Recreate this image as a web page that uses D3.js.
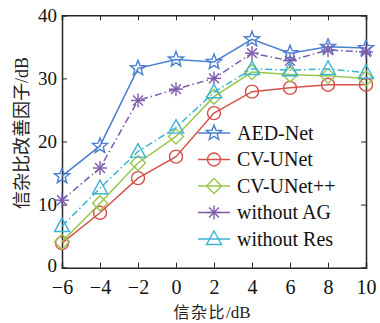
<!DOCTYPE html>
<html><head><meta charset="utf-8">
<script src="https://cdn.jsdelivr.net/npm/d3@7"></script>
<style>body{margin:0;background:#fff}svg{display:block}</style>
</head><body>
<script>
const snr = [-6,-4,-2,0,2,4,6,8,10];
const xTicks = [-6,-4,-2,0,2,4,6,8,10];
const yTicks = [0,10,20,30,40];
const seriesNames = ["AED-Net","CV-UNet","CV-UNet++","without AG","without Res"];
const aedNet   = [14.5,19.3,31.6,33.0,32.6,36.2,34.0,35.0,34.8];
const cvUNet   = [3.9,8.7,14.2,17.6,24.5,27.9,28.5,29.0,29.0];
const cvUNetPP = [4.1,10.2,16.6,20.8,27.1,31.0,30.6,30.4,30.0];
const withoutAG= [10.7,15.8,26.5,28.3,30.0,34.0,32.8,34.5,34.2];
const withoutRes=[6.6,12.6,18.4,22.2,27.8,31.5,31.3,31.5,30.9];
const colors = ["#4a7fd0","#d6504a","#98c54c","#7d5aad","#3db3d3"];
const symbols = ["star","circle","diamond","asterisk","triangle"];
const dashes = [null,null,null,"7,3,1.5,3","7,3,1.5,3"];
const allSeries = [aedNet,cvUNet,cvUNetPP,withoutAG,withoutRes];

const W=380,H=323, L=62, R=366, T=15.3, B=267.7;
const svg=d3.select("body").append("svg").attr("width",W).attr("height",H);
const x=d3.scaleLinear().domain([-6,10]).range([L,R]);
const y=d3.scaleLinear().domain([0,40]).range([B,T]);

const serif="'Liberation Serif','Times New Roman',serif";
const cjk="'Noto Sans CJK SC',sans-serif";
const axisColor="#262626";

function styleAxis(g, fs){
  g.selectAll("path").attr("stroke",axisColor).attr("stroke-width",1.5);
  g.selectAll("line").attr("stroke",axisColor).attr("stroke-width",1);
  g.selectAll("text").attr("font-family",serif).attr("font-size",fs).attr("fill","#111");
}
const fmt = d=> d<0 ? "\u2212"+Math.abs(d) : String(d);
svg.append("g").attr("transform",`translate(0,${B})`)
  .call(d3.axisBottom(x).tickValues(xTicks).tickSize(-5).tickPadding(12).tickFormat(fmt)).call(styleAxis,20);
const yAx=svg.append("g").attr("transform",`translate(${L},0)`)
  .call(d3.axisLeft(y).tickValues(yTicks).tickSize(-5).tickPadding(5)).call(styleAxis,19);
yAx.selectAll(".tick text").filter(d=>d===0).attr("dy","0.2em");
svg.append("g").attr("transform",`translate(0,${T})`)
  .call(d3.axisTop(x).tickValues(xTicks).tickSize(-5).tickFormat("")).call(styleAxis,20);
svg.append("g").attr("transform",`translate(${R},0)`)
  .call(d3.axisRight(y).tickValues(yTicks).tickSize(-5).tickFormat("")).call(styleAxis,20);

function marker(g, type, cx, cy, color){
  if(type==="circle"){
    g.append("circle").attr("cx",cx).attr("cy",cy).attr("r",6.5).attr("fill","none").attr("stroke",color).attr("stroke-width",1.4);
  } else if(type==="diamond"){
    g.append("path").attr("d",`M${cx},${cy-7.5}L${cx+7.5},${cy}L${cx},${cy+7.5}L${cx-7.5},${cy}Z`).attr("fill","none").attr("stroke",color).attr("stroke-width",1.4);
  } else if(type==="triangle"){
    g.append("path").attr("d",`M${cx},${cy-8}L${cx+7.5},${cy+5.5}L${cx-7.5},${cy+5.5}Z`).attr("fill","none").attr("stroke",color).attr("stroke-width",1.4);
  } else if(type==="star"){
    const pts=[];
    for(let i=0;i<10;i++){const r=i%2===0?8:3.4;const a=-Math.PI/2+i*Math.PI/5;pts.push([cx+r*Math.cos(a),cy+r*Math.sin(a)]);}
    g.append("path").attr("d","M"+pts.map(p=>p.join(",")).join("L")+"Z").attr("fill","none").attr("stroke",color).attr("stroke-width",1.4);
  } else if(type==="asterisk"){
    for(let i=0;i<4;i++){const a=i*Math.PI/4;const r=7;
      g.append("line").attr("x1",cx-r*Math.cos(a)).attr("y1",cy-r*Math.sin(a)).attr("x2",cx+r*Math.cos(a)).attr("y2",cy+r*Math.sin(a)).attr("stroke",color).attr("stroke-width",1.4);}
  }
}

const line=d3.line().x((d,i)=>x(snr[i])).y(d=>y(d));
allSeries.forEach((vals,k)=>{
  const g=svg.append("g");
  g.append("path").datum(vals).attr("d",line).attr("fill","none").attr("stroke",colors[k]).attr("stroke-width",1.5)
    .attr("stroke-dasharray",dashes[k]);
  vals.forEach((v,i)=>marker(g,symbols[k],x(snr[i]),y(v),colors[k]));
});

const legY=[133,159.5,186,212.5,239];
seriesNames.forEach((n,k)=>{
  const g=svg.append("g");
  g.append("line").attr("x1",198).attr("x2",230).attr("y1",legY[k]).attr("y2",legY[k]).attr("stroke",colors[k]).attr("stroke-width",1.5);
  marker(g,symbols[k],214,legY[k],colors[k]);
  g.append("text").attr("x",237).attr("y",legY[k]+6.5).attr("font-family",serif).attr("font-size",20).attr("fill","#111").text(n);
});

const xt=svg.append("text").attr("x",212).attr("y",318).attr("text-anchor","middle").attr("font-size",16).attr("letter-spacing",1.5).attr("fill","#222");
xt.append("tspan").attr("font-family",cjk).text("信杂比");
xt.append("tspan").attr("font-family",serif).attr("font-size",17).attr("letter-spacing",0).text("/dB");
const yt=svg.append("text").attr("transform","translate(28,133) rotate(-90)").attr("text-anchor","middle").attr("font-size",18).attr("fill","#222");
yt.append("tspan").attr("font-family",cjk).text("信杂比改善因子");
yt.append("tspan").attr("font-family",serif).attr("font-size",18).text("/dB");
</script>
</body></html>
